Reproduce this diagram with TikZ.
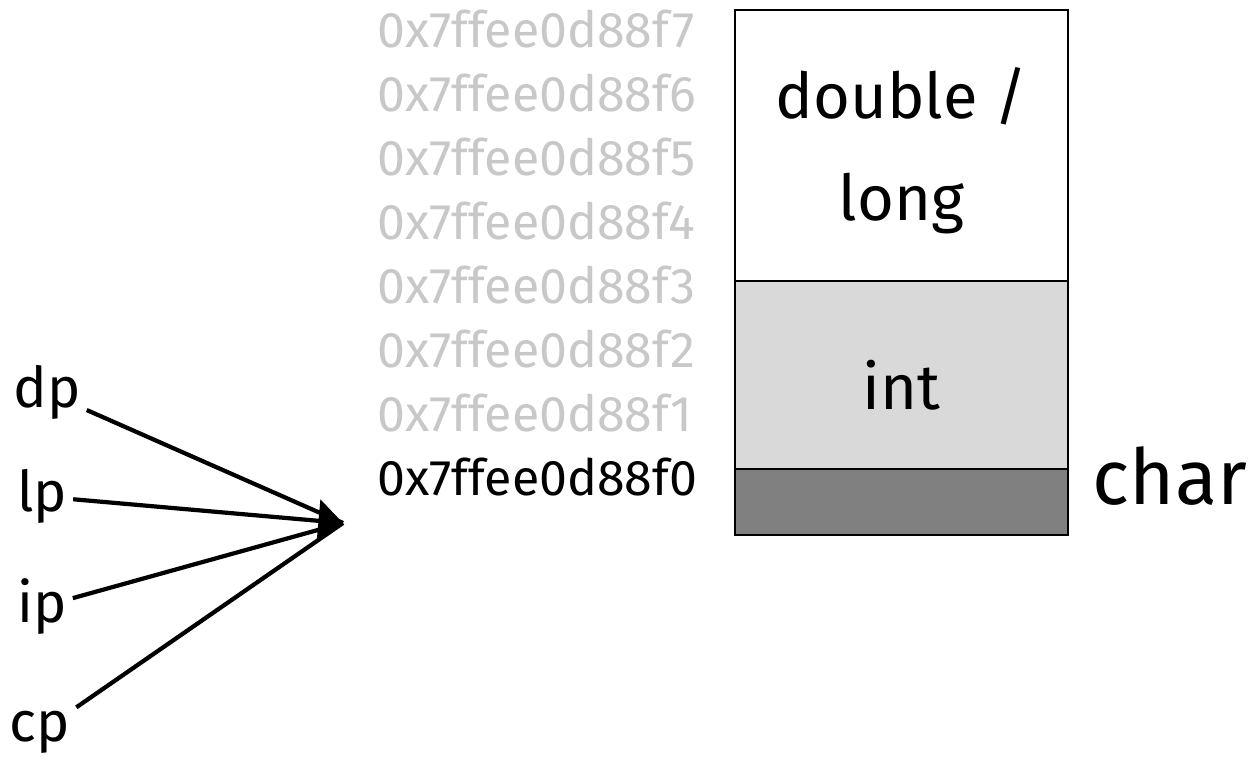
\documentclass[tikz,border=0pt]{standalone}
\usepackage{fontspec}
\setmainfont{Fira Sans}
\usepackage{xcolor}
\usetikzlibrary{arrows.meta,positioning}

\definecolor{addrgray}{HTML}{C8C8C8}
\definecolor{intgray}{HTML}{D9D9D9}
\definecolor{chargray}{HTML}{808080}

\tikzset{
	ptr/.style={font=\fontsize{32}{36}\selectfont,anchor=mid},
	addr/.style={font=\fontsize{28.5}{32}\selectfont,anchor=mid west,inner sep=0pt},
	cell/.style={draw,line width=1.6pt,minimum width=6.66cm,inner sep=0pt,outer sep=0pt,
		font=\fontsize{36}{60}\selectfont,align=center}
}

\begin{document}
\begin{tikzpicture}
		\useasboundingbox (0,0) rectangle (25.14,15.42);
		% pointers
		\node[ptr] (dp) at (0.94,7.36) {dp};
		\node[ptr] (lp) at (0.84,5.28) {lp};
		\node[ptr] (ip) at (0.84,3.06) {ip};
		\node[ptr] (cp) at (0.80,0.68) {cp};
		\coordinate (T) at (6.86,4.96);
		%
		% addresses
		\foreach \i/\y in {7/14.56,6/13.28,5/12.00,4/10.72,3/9.44,2/8.16,1/6.88}
			\node[addr,text=addrgray] (a\i) at (7.54,\y) {0x7ffee0d88f\i};
		\node[addr] (a0) at (7.54,5.60) {0x7ffee0d88f0};
		%
		% memory
		\node[cell,anchor=north,minimum height=5.42cm] (dbl) at (18.03,15.22) {\raisebox{-1.5cm}[0pt][0pt]{\shortstack{double /\\[0.85cm]long}}};
		\node[cell,anchor=north,minimum height=3.76cm,fill=intgray,below=0pt of dbl] (int) {\raisebox{-19.5pt}[0pt][0pt]{int}};
		\node[cell,anchor=north,minimum height=1.32cm,fill=chargray,below=0pt of int] (chr) {};
		\node[ptr,font=\fontsize{44}{48}\selectfont] (chl) at (23.4,5.42) {char};
		%
		\path[line width=2.4pt]
		% pointer arrows
		(dp) edge (T)
		(ip) edge (T)
		(cp) edge (T);
		\draw[line width=2.4pt,-{Triangle[length=14pt,width=24pt]}] (lp) -- (T);
	\end{tikzpicture}
\end{document}
